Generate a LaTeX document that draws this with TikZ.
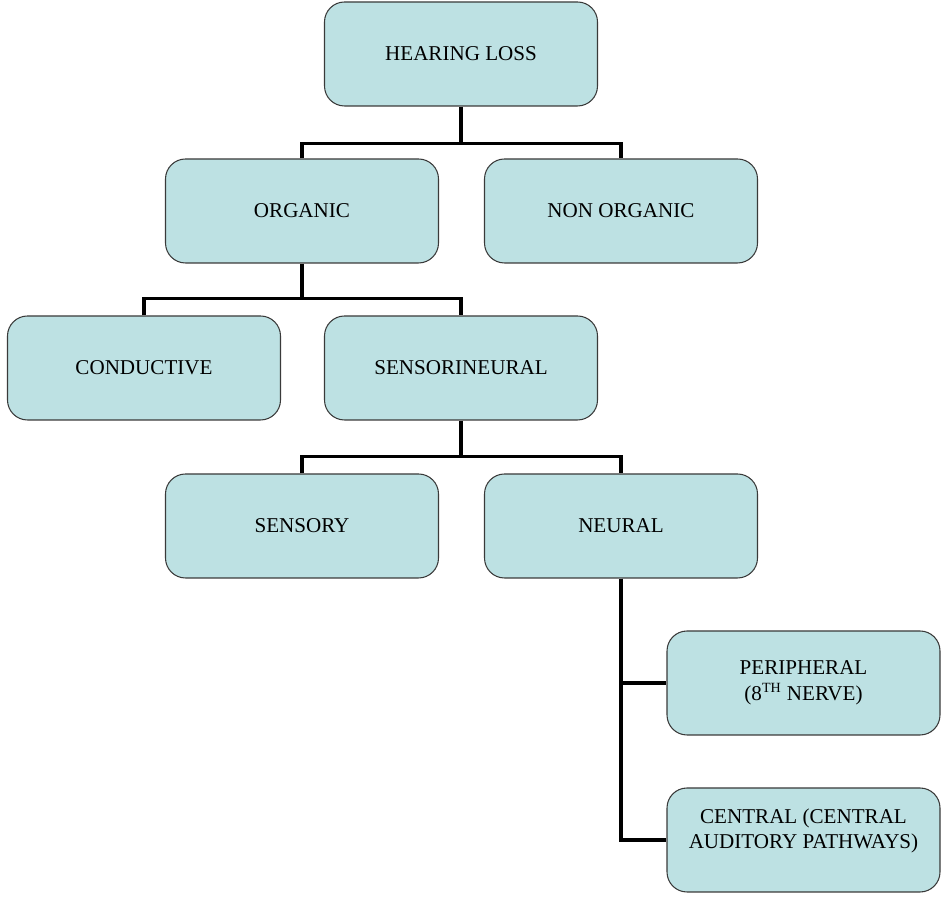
\documentclass[tikz,border=0pt]{standalone}
\usepackage{fontspec}
\setmainfont{Liberation Serif}
\usepackage{tikz}
\usetikzlibrary{positioning}

\definecolor{boxfill}{HTML}{BDE1E3}
\definecolor{boxline}{HTML}{3A3A3A}

\tikzset{
  hlbox/.style={draw=boxline, line width=0.6pt, fill=boxfill, rounded corners=0.4cm,
    minimum width=5.46cm, minimum height=2.08cm, align=center,
    font=\fontsize{12}{14.5}\selectfont},
  link/.style={line width=2.2pt, black}
}

\begin{document}
\begin{tikzpicture}
\useasboundingbox (0,0) rectangle (18.82,17.96);
\node[hlbox] (hl) at (9.22,16.88) {HEARING LOSS};
\node[hlbox] (org) at (6.04,13.74) {ORGANIC};
\node[hlbox] (nonorg) at (12.42,13.74) {NON ORGANIC};
\node[hlbox] (cond) at (2.88,10.6) {CONDUCTIVE};
\node[hlbox] (snhl) at (9.22,10.6) {SENSORINEURAL};
\node[hlbox] (sens) at (6.04,7.44) {SENSORY};
\node[hlbox] (neural) at (12.42,7.44) {NEURAL};
\node[hlbox] (periph) at (16.07,4.3) {PERIPHERAL\\(8\textsuperscript{TH} NERVE)};
\node[hlbox, text depth=0.45cm] (central) at (16.07,1.16) {CENTRAL (CENTRAL\\AUDITORY PATHWAYS)};
% tree links
\draw[link] (hl.south) -- ++(0,-0.74) coordinate (b1);
\draw[link] (org.north) |- (b1) -| (nonorg.north);
\draw[link] (org.south) -- ++(0,-0.7) coordinate (b2);
\draw[link] (cond.north) |- (b2) -| (snhl.north);
\draw[link] (snhl.south) -- ++(0,-0.72) coordinate (b3);
\draw[link] (sens.north) |- (b3) -| (neural.north);
\draw[link] (neural.south) |- (periph.west);
\draw[link] (neural.south) |- (central.west);
\end{tikzpicture}
\end{document}
